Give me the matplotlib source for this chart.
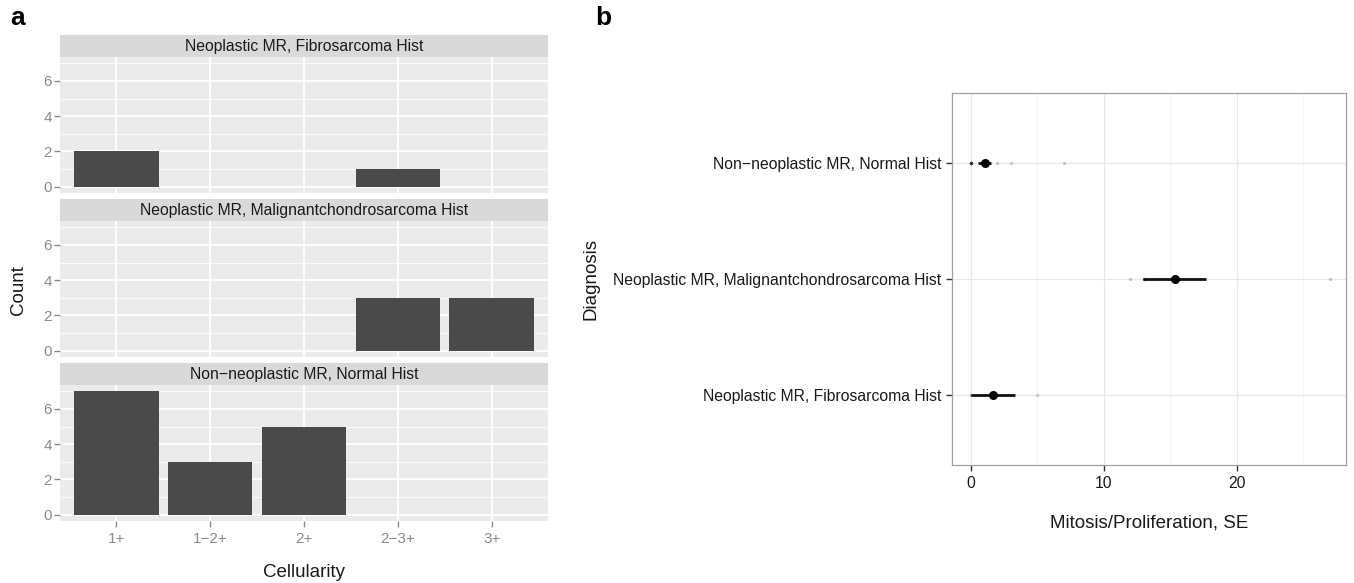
import matplotlib
matplotlib.use("Agg")
import matplotlib.pyplot as plt
import numpy as np

plt.rcParams['font.family'] = ['Liberation Sans', 'DejaVu Sans']

# ---------------- data ----------------
cellularity = ["1+", "1\u22122+", "2+", "2\u22123+", "3+"]
facets = ["Neoplastic MR, Fibrosarcoma Hist",
          "Neoplastic MR, Malignantchondrosarcoma Hist",
          "Non\u2212neoplastic MR, Normal Hist"]
counts_fibro = [2, 0, 0, 1, 0]
counts_malig = [0, 0, 0, 3, 3]
counts_normal = [7, 3, 5, 0, 0]
facet_counts = [counts_fibro, counts_malig, counts_normal]
count_ticks = [0, 2, 4, 6]

diagnoses = ["Neoplastic MR, Fibrosarcoma Hist",
             "Neoplastic MR, Malignantchondrosarcoma Hist",
             "Non\u2212neoplastic MR, Normal Hist"]
mitosis_fibro = [0, 0, 5]
mitosis_malig = [12, 13, 13, 13, 14, 27]
mitosis_normal = [0, 0, 0, 0, 0, 0, 0, 0, 1, 1, 1, 1, 2, 3, 7]
mitosis_values = [mitosis_fibro, mitosis_malig, mitosis_normal]
mitosis_ticks = [0, 10, 20]

# ---------------- layout ----------------
W, H = 1354, 583
fig = plt.figure(figsize=(W / 100, H / 100), dpi=100)

def rect(x0, y0, x1, y1):
    return [x0 / W, 1 - y1 / H, (x1 - x0) / W, (y1 - y0) / H]

PANEL_BG = "#EBEBEB"
STRIP_BG = "#D9D9D9"
BAR = "#4A4A4A"
TICKC = "#8A8A8A"
TXT = "#1A1A1A"

x0a, x1a = 60, 548
strip_tops = [35, 199, 363]
strip_h = 22
panel_h = 136
xpos = np.arange(1, len(cellularity) + 1)

for i, (name, cnt) in enumerate(zip(facets, facet_counts)):
    st = strip_tops[i]
    sax = fig.add_axes(rect(x0a, st, x1a, st + strip_h))
    sax.set_facecolor(STRIP_BG)
    sax.set_xticks([]); sax.set_yticks([])
    for sp in sax.spines.values():
        sp.set_visible(False)
    sax.text(0.5, 0.5, name, ha="center", va="center", fontsize=11.3,
             color=TXT, transform=sax.transAxes)

    ax = fig.add_axes(rect(x0a, st + strip_h, x1a, st + strip_h + panel_h))
    ax.set_facecolor(PANEL_BG)
    ax.set_xlim(0.4, 5.6)
    ax.set_ylim(-0.35, 7.35)
    for sp in ax.spines.values():
        sp.set_visible(False)
    ax.set_axisbelow(True)
    for y in [1, 3, 5, 7]:
        ax.axhline(y, color="white", lw=0.6, zorder=0)
    for y in count_ticks:
        ax.axhline(y, color="white", lw=1.3, zorder=0)
    for xx in xpos:
        ax.axvline(xx, color="white", lw=1.3, zorder=0)
    ax.bar(xpos, cnt, width=0.9, color=BAR, zorder=2)
    ax.set_yticks(count_ticks)
    ax.set_yticklabels([str(t) for t in count_ticks])
    ax.tick_params(axis="y", colors=TICKC, labelcolor=TICKC, labelsize=11,
                   length=4, width=1, pad=2)
    ax.set_xticks(xpos)
    if i == len(facets) - 1:
        ax.set_xticklabels(cellularity)
        ax.tick_params(axis="x", colors=TICKC, labelcolor=TICKC, labelsize=11,
                       length=4, width=1, pad=4)
        ax.set_xlabel("Cellularity", fontsize=13.5, color=TXT, labelpad=13)
    else:
        ax.set_xticklabels([])
        ax.tick_params(axis="x", length=0)

fig.text(18 / W, 1 - 290 / H, "Count", rotation=90, ha="center", va="center",
         fontsize=13.5, color=TXT)
fig.text(10 / W, 1 - 18 / H, "a", fontsize=19, fontweight="bold",
         ha="left", va="center")
fig.text(595 / W, 1 - 18 / H, "b", fontsize=19, fontweight="bold",
         ha="left", va="center")

# ---------------- panel b ----------------
axb = fig.add_axes(rect(952, 93, 1346, 465))
axb.set_facecolor("white")
axb.set_xlim(-1.4, 28.2)
axb.set_ylim(0.4, 3.6)
for sp in axb.spines.values():
    sp.set_color("#A0A0A0")
    sp.set_linewidth(0.9)
for xv in [5, 15, 25]:
    axb.axvline(xv, color="#F4F4F4", lw=0.6, zorder=0)
for xv in mitosis_ticks:
    axb.axvline(xv, color="#E8E8E8", lw=0.9, zorder=0)
ypos = np.arange(1, len(diagnoses) + 1)
for yv in ypos:
    axb.axhline(yv, color="#E8E8E8", lw=0.9, zorder=0)

for yv, vals in zip(ypos, mitosis_values):
    v = np.asarray(vals, dtype=float)
    m = v.mean()
    se = v.std(ddof=1) / np.sqrt(len(v))
    axb.scatter(v, np.full(len(v), yv), s=6, color="black", alpha=0.18,
                linewidths=0, zorder=2)
    axb.plot([m - se, m + se], [yv, yv], color="#111111", lw=2.0,
             solid_capstyle="butt", zorder=3)
    axb.scatter([m], [yv], s=42, color="black", zorder=4, linewidths=0)

axb.set_yticks(ypos)
axb.set_yticklabels(diagnoses)
axb.set_xticks(mitosis_ticks)
axb.tick_params(axis="both", colors="#333333", labelcolor=TXT,
                labelsize=11.3, length=4, width=1)
axb.tick_params(axis="x", pad=4)
axb.set_xlabel("Mitosis/Proliferation, SE", fontsize=13.5, color=TXT,
               labelpad=17)
axb.set_ylabel("Diagnosis", fontsize=13.5, color=TXT, labelpad=10)

fig.savefig("out.png", dpi=100)
